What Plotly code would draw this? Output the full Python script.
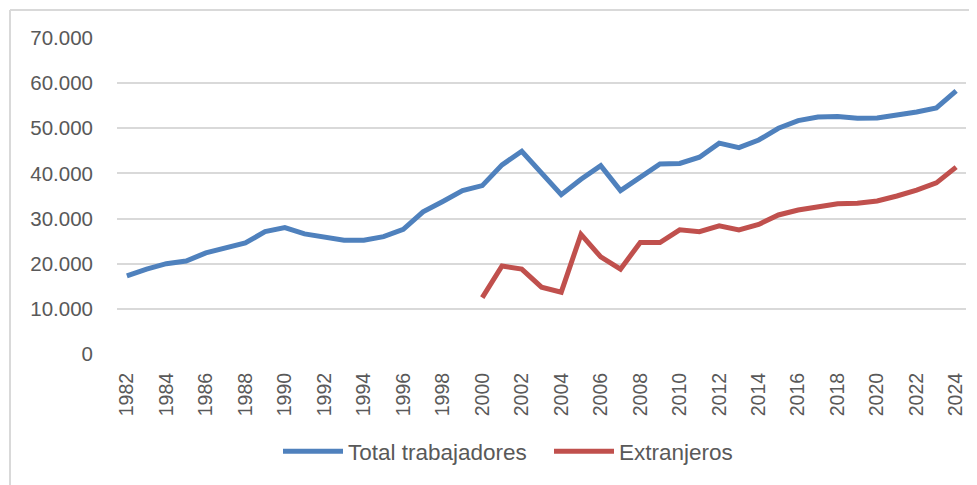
import plotly.graph_objects as go

years = [str(y) for y in range(1982, 2025)]
total = [17300, 18800, 20000, 20600, 22400, 23600, 24600, 27100, 28000, 26600,
         26000, 25200, 25200, 26000, 27600, 31500, 33800, 36200, 37300, 41900,
         44900, 40200, 35300, 38700, 41700, 36200, 39300, 42100, 42200, 43600,
         46700, 45700, 47400, 50000, 51700, 52500, 52600, 52200, 52300, 52900,
         53600, 54500, 58300]
ext_years = [str(y) for y in range(2000, 2025)]
extranjeros = [12500, 19500, 18800, 14800, 13700, 26500, 21500, 18800, 24700, 24700,
               27500, 27100, 28400, 27500, 28700, 30800, 31900, 32700, 33300, 33400,
               33900, 35000, 36300, 37900, 41400]
tick_years = [str(y) for y in range(1982, 2025, 2)]
y_ticks = [0, 10000, 20000, 30000, 40000, 50000, 60000, 70000]

grey_text = "#595959"
grid = "#D9D9D9"
font = "Liberation Sans"

ML, MR, MT, MB = 109, 19, 30, 139
W, H = 977, 485
pw, ph = W - ML - MR, H - MT - MB
bx = (2 - ML) / pw
by = 1 + (MT - 2) / ph

fig = go.Figure()
fig.add_trace(go.Scatter(x=years, y=total, mode="lines", name="Total trabajadores",
                         line=dict(color="#4F81BD", width=5)))
fig.add_trace(go.Scatter(x=ext_years, y=extranjeros, mode="lines", name="Extranjeros",
                         line=dict(color="#C0504D", width=5)))

fig.update_layout(
    width=W, height=H,
    margin=dict(l=ML, r=MR, t=MT, b=MB),
    paper_bgcolor="white", plot_bgcolor="white",
    separators=",.",
    font=dict(family=font, color=grey_text),
    showlegend=True,
    legend=dict(orientation="h", x=(270 - ML) / pw, xanchor="left", y=-0.309,
                yanchor="middle", font=dict(size=22.5, color=grey_text), itemwidth=60,
                entrywidth=196, itemsizing="constant"),
    xaxis=dict(type="category", categoryorder="array", categoryarray=years,
               range=[-0.5, 42.5], tickmode="array", tickvals=tick_years,
               ticktext=tick_years, tickangle=-90, tickfont=dict(size=19.5, color=grey_text),
               showgrid=False, showline=False, zeroline=False, ticks="",
               ticklabelstandoff=14, fixedrange=True),
    yaxis=dict(range=[0, 70000], tickvals=y_ticks, tickformat=",d",
               tickfont=dict(size=20.5, color=grey_text), showgrid=True,
               gridcolor=grid, gridwidth=1.5, zeroline=False, showline=False, ticks="",
               ticklabelstandoff=23),
    shapes=[
        dict(type="line", xref="paper", yref="paper", x0=bx, x1=1.1, y0=by, y1=by,
             line=dict(color=grid, width=2)),
        dict(type="line", xref="paper", yref="paper", x0=bx, x1=bx, y0=by, y1=-0.6,
             line=dict(color=grid, width=2)),
    ],
)
fig.write_html("out.html")
